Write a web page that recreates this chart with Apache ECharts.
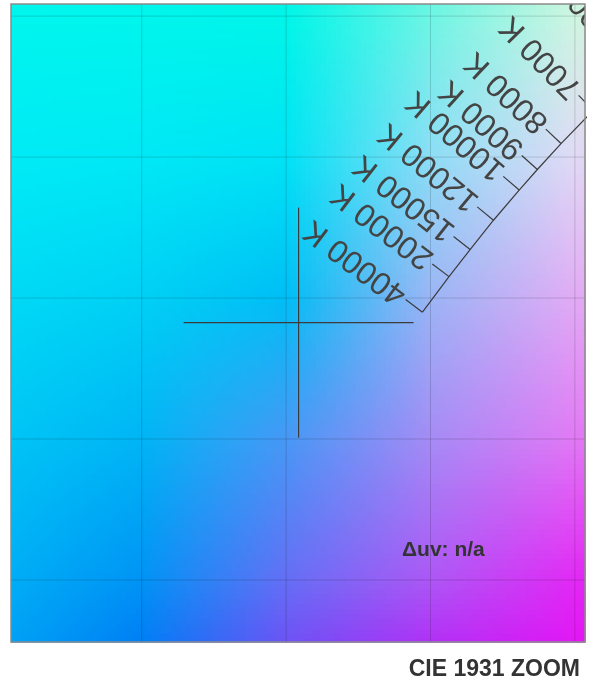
<!DOCTYPE html>
<html>
<head>
<meta charset="utf-8">
<style>
  html, body { margin: 0; padding: 0; background: #fff; }
  #chart { width: 597px; height: 684px; }
</style>
<script src="https://cdn.jsdelivr.net/npm/echarts@6/dist/echarts.min.js"></script>
</head>
<body>
<div id="chart"></div>
<script>
// zoom window in CIE 1931 x / y
const xRange = [0.1047, 0.3035];
const yRange = [0.128, 0.3543];
const gridX = [0.15, 0.20, 0.25, 0.30];
const gridY = [0.15, 0.20, 0.25, 0.30, 0.35];

// planckian locus (high CCT -> low CCT)
const cctLabels = ['40000 K', '20000 K', '15000 K', '12000 K', '10000 K', '9000 K', '8000 K', '7000 K', '6000 K', '5000 K'];
const locusX = [0.2472, 0.2564, 0.2637, 0.2718, 0.2807, 0.2870, 0.2952, 0.3064, 0.3220, 0.3450];
const locusY = [0.2450, 0.2576, 0.2672, 0.2776, 0.2883, 0.2956, 0.3048, 0.3166, 0.3318, 0.3516];

// target crosshair
const target = [0.2043, 0.2413];
const duvText = 'Δuv: n/a';
const titleText = 'CIE 1931 ZOOM';

const FONT = '"Liberation Sans", Arial, Helvetica, sans-serif';

// chromaticity -> display colour (desaturate into gamut, max channel normalised)
function xyToRgb(x, y) {
  const X = x / y, Y = 1, Z = (1 - x - y) / y;
  let r = 3.2406 * X - 1.5372 * Y - 0.4986 * Z;
  let g = -0.9689 * X + 1.8758 * Y + 0.0415 * Z;
  let b = 0.0557 * X - 0.2040 * Y + 1.0570 * Z;
  const lo = Math.min(r, g, b, 0);
  r -= lo; g -= lo; b -= lo;
  const m = Math.max(r, g, b);
  const enc = c => {
    c = c / m;
    c = c <= 0.0031308 ? 12.92 * c : 1.055 * Math.pow(c, 1 / 2.4) - 0.055;
    return 245 * c;
  };
  return [enc(r), enc(g), enc(b)];
}

// colour sampled every 0.05 in x / y and blended in between
const nodeStep = 0.05;
function fieldColor(x, y) {
  const i0 = Math.floor(x / nodeStep), j0 = Math.floor(y / nodeStep);
  const u = x / nodeStep - i0, v = y / nodeStep - j0;
  const c00 = xyToRgb(i0 * nodeStep, j0 * nodeStep);
  const c10 = xyToRgb((i0 + 1) * nodeStep, j0 * nodeStep);
  const c01 = xyToRgb(i0 * nodeStep, (j0 + 1) * nodeStep);
  const c11 = xyToRgb((i0 + 1) * nodeStep, (j0 + 1) * nodeStep);
  return [0, 1, 2].map(k => Math.round(
    c00[k] * (1 - u) * (1 - v) + c10[k] * u * (1 - v) + c01[k] * (1 - u) * v + c11[k] * u * v));
}

function renderBackground(params, api) {
  const cs = params.coordSys;
  const p0 = api.coord([xRange[0], yRange[0]]);
  const p1 = api.coord([xRange[1], yRange[1]]);
  const cell = 5;
  const children = [];
  for (let py = cs.y; py < cs.y + cs.height; py += cell) {
    for (let px = cs.x; px < cs.x + cs.width; px += cell) {
      const w = Math.min(cell, cs.x + cs.width - px);
      const h = Math.min(cell, cs.y + cs.height - py);
      const x = xRange[0] + (px + w / 2 - p0[0]) / (p1[0] - p0[0]) * (xRange[1] - xRange[0]);
      const y = yRange[0] + (py + h / 2 - p0[1]) / (p1[1] - p0[1]) * (yRange[1] - yRange[0]);
      children.push({
        type: 'rect',
        shape: { x: px, y: py, width: w + 0.6, height: h + 0.6 },
        style: { fill: 'rgb(' + fieldColor(x, y).join(',') + ')' },
        silent: true
      });
    }
  }
  gridX.forEach(gx => {
    const a = api.coord([gx, yRange[0]]), b = api.coord([gx, yRange[1]]);
    children.push({ type: 'line', shape: { x1: a[0], y1: a[1], x2: b[0], y2: b[1] },
      style: { stroke: 'rgba(0,0,0,0.15)', lineWidth: 1 } });
  });
  gridY.forEach(gy => {
    const a = api.coord([xRange[0], gy]), b = api.coord([xRange[1], gy]);
    children.push({ type: 'line', shape: { x1: a[0], y1: a[1], x2: b[0], y2: b[1] },
      style: { stroke: 'rgba(0,0,0,0.15)', lineWidth: 1 } });
  });
  return { type: 'group', children: children };
}

function renderIsotherm(params, api) {
  const i = params.dataIndex;
  const n = locusX.length;
  const p = api.coord([locusX[i], locusY[i]]);
  const a = api.coord([locusX[Math.max(i - 1, 0)], locusY[Math.max(i - 1, 0)]]);
  const b = api.coord([locusX[Math.min(i + 1, n - 1)], locusY[Math.min(i + 1, n - 1)]]);
  let tx = b[0] - a[0], ty = b[1] - a[1];
  const len = Math.sqrt(tx * tx + ty * ty);
  tx /= len; ty /= len;
  const nx = ty, ny = -tx; // perpendicular, toward upper left
  const tick = 21;
  const ex = p[0] + nx * tick, ey = p[1] + ny * tick;
  return {
    type: 'group',
    children: [
      { type: 'line', shape: { x1: p[0], y1: p[1], x2: ex, y2: ey },
        style: { stroke: '#3c3c3c', lineWidth: 1.2 } },
      { type: 'text', x: ex + nx * 3, y: ey + ny * 3,
        rotation: Math.atan2(-ny, nx),
        style: { text: cctLabels[i], x: 0, y: 0, align: 'left', verticalAlign: 'middle',
          fill: '#444', font: '32px ' + FONT } }
    ]
  };
}

function renderCross(params, api) {
  const p = api.coord([api.value(0), api.value(1)]);
  const arm = 115;
  return {
    type: 'group',
    children: [
      { type: 'line', shape: { x1: p[0] - arm, y1: p[1], x2: p[0] + arm, y2: p[1] },
        style: { stroke: '#3c3c3c', lineWidth: 1.2 } },
      { type: 'line', shape: { x1: p[0], y1: p[1] - arm, x2: p[0], y2: p[1] + arm },
        style: { stroke: '#3c3c3c', lineWidth: 1.2 } }
    ]
  };
}

function renderFrame(params, api) {
  const cs = params.coordSys;
  return {
    type: 'rect',
    shape: { x: cs.x, y: cs.y, width: cs.width, height: cs.height },
    style: { fill: 'none', stroke: '#8a8a8a', lineWidth: 1.5 }
  };
}

const chart = echarts.init(document.getElementById('chart'), null, { renderer: 'canvas' });
chart.setOption({
  animation: false,
  backgroundColor: '#fff',
  title: {
    text: titleText,
    right: 12,
    top: 653,
    textStyle: { fontSize: 23, fontWeight: 'bold', color: '#333', fontFamily: FONT }
  },
  grid: { left: 11, right: 12, top: 4, bottom: 42 },
  xAxis: {
    type: 'value', min: xRange[0], max: xRange[1],
    axisLine: { show: false }, axisTick: { show: false }, axisLabel: { show: false },
    splitLine: { show: false }
  },
  yAxis: {
    type: 'value', min: yRange[0], max: yRange[1],
    axisLine: { show: false }, axisTick: { show: false }, axisLabel: { show: false },
    splitLine: { show: false }
  },
  graphic: [{
    type: 'text',
    left: 402,
    top: 540,
    z: 50,
    style: { text: duvText, font: 'bold 21px ' + FONT, fill: '#333' }
  }],
  series: [
    { type: 'custom', name: 'background', renderItem: renderBackground, data: [[target[0], target[1]]], z: 1, silent: true },
    {
      type: 'line', name: 'locus',
      data: locusX.map((x, i) => [x, locusY[i]]),
      showSymbol: false, clip: true, z: 3, silent: true,
      lineStyle: { color: '#3c3c3c', width: 1.2 }
    },
    {
      type: 'custom', name: 'isotherms', renderItem: renderIsotherm,
      data: locusX.map((x, i) => [x, locusY[i]]),
      clip: true, z: 4, silent: true
    },
    { type: 'custom', name: 'target', renderItem: renderCross, data: [target], clip: true, z: 5, silent: true },
    { type: 'custom', name: 'frame', renderItem: renderFrame, data: [[target[0], target[1]]], z: 6, silent: true }
  ]
});
</script>
</body>
</html>
